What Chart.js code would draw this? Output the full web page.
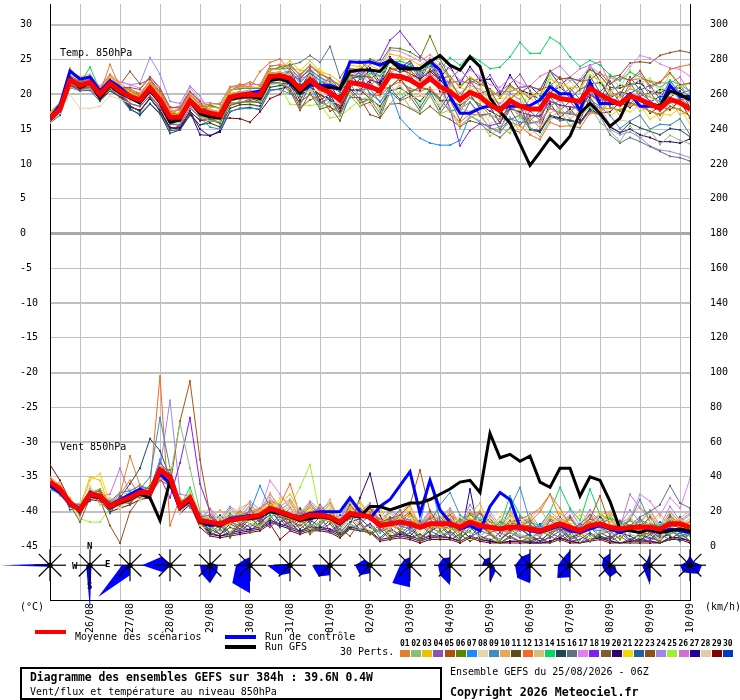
<!DOCTYPE html>
<html><head><meta charset="utf-8">
<script src="https://cdn.jsdelivr.net/npm/chart.js@4.4.1/dist/chart.umd.min.js"></script>
<style>
body{margin:0;background:#fff}
#wrap{position:relative;width:740px;height:700px;overflow:hidden;background:#fff}
.t{position:absolute;font-family:"DejaVu Sans Mono",monospace;font-size:10px;line-height:12px;white-space:nowrap;color:#000}
.sw{position:absolute;height:4px;width:31px}
.nb{position:absolute;font-family:"DejaVu Sans Mono",monospace;font-size:8px;font-weight:bold;line-height:9px;top:639px;white-space:nowrap}
.bx{position:absolute;top:650px;width:10px;height:7px}
.rl{position:absolute;font-family:"DejaVu Sans Mono",monospace;font-size:9px;font-weight:bold;line-height:10px}
</style></head>
<body>
<div id="wrap">
<canvas id="c" width="740" height="700"></canvas>
<div class="t" style="left:60px;top:47px">Temp. 850hPa</div>
<div class="t" style="left:60px;top:441px">Vent 850hPa</div>
<div class="rl" style="left:87px;top:541px">N</div>
<div class="rl" style="left:72px;top:561px">W</div>
<div class="rl" style="left:105px;top:559px">E</div>
<div class="rl" style="left:87px;top:581px">S</div>
<div class="t" style="left:20px;top:601px">(°C)</div>
<div class="t" style="left:705px;top:601px">(km/h)</div>
<div class="sw" style="left:35px;top:630px;background:#ff0000"></div>
<div class="t" style="left:75px;top:631px">Moyenne des scénarios</div>
<div class="sw" style="left:225px;top:635px;background:#0000ff"></div>
<div class="t" style="left:265px;top:631px">Run de contrôle</div>
<div class="sw" style="left:225px;top:645px;background:#000"></div>
<div class="t" style="left:265px;top:641px">Run GFS</div>
<div class="t" style="left:340px;top:646px">30 Perts.</div>
<div id="leg"></div>
<div style="position:absolute;left:20px;top:667px;width:418px;height:29px;border:2px solid #000"></div>
<div class="t" style="left:30px;top:671px;font-weight:bold;font-size:11.4px">Diagramme des ensembles GEFS sur 384h : 39.6N 0.4W</div>
<div class="t" style="left:30px;top:686px">Vent/flux et température au niveau 850hPa</div>
<div class="t" style="left:450px;top:666px">Ensemble GEFS du 25/08/2026 - 06Z</div>
<div class="t" style="left:450px;top:686px;font-weight:bold;font-size:11.6px">Copyright 2026 Meteociel.fr</div>
</div>
<script>
const hours = [0,6,12,18,24,30,36,42,48,54,60,66,72,78,84,90,96,102,108,114,120,126,132,138,144,150,156,162,168,174,180,186,192,198,204,210,216,222,228,234,240,246,252,258,264,270,276,282,288,294,300,306,312,318,324,330,336,342,348,354,360,366,372,378,384];
const dateLabels = ['26/08','27/08','28/08','29/08','30/08','31/08','01/09','02/09','03/09','04/09','05/09','06/09','07/09','08/09','09/09','10/09'];
const labelHours = [24,48,72,96,120,144,168,192,216,240,264,288,312,336,360,384];
const gridHours = [18,42,66,90,114,138,162,186,210,234,258,282,306,330,354,378];
const leftTicks = [-45,-40,-35,-30,-25,-20,-15,-10,-5,0,5,10,15,20,25,30];
const rightTicks = [0,20,40,60,80,100,120,140,160,180,200,220,240,260,280,300];

const tempMean = [16.6,17.9,22.0,21.3,21.7,20.0,21.6,20.5,19.7,19.2,20.9,19.2,16.7,16.7,19.1,17.7,17.3,17.0,19.6,19.9,20.0,19.9,22.6,22.7,22.3,20.8,22.1,20.9,20.3,19.2,21.7,21.5,21.1,20.5,22.7,22.6,22.1,21.2,22.3,21.1,20.4,19.2,20.3,19.7,18.5,17.7,19.1,18.3,17.9,17.9,20.0,19.4,19.2,19.0,20.9,20.0,19.2,18.6,19.8,19.3,18.6,18.0,19.3,18.8,17.9];
const tempCtrl = [16.7,18.5,23.4,22.2,22.5,20.5,22.0,21.0,19.8,19.0,20.5,19.0,16.5,16.5,19.0,17.5,17.0,16.8,19.4,20.0,20.2,20.5,22.0,22.4,21.6,20.4,21.3,21.3,21.3,20.8,24.7,24.6,24.7,24.2,24.9,24.2,23.7,23.7,24.8,23.5,19.7,17.3,17.3,18.0,18.4,18.0,18.3,18.3,18.4,19.2,21.1,20.1,20.1,17.7,21.8,18.7,18.7,18.7,20.1,18.3,18.3,18.3,21.3,19.7,19.7];
const tempGfs = [16.5,18.0,22.3,21.0,21.6,19.5,21.3,20.2,19.5,18.8,20.6,18.8,16.0,16.3,19.0,17.2,16.8,16.6,19.3,19.6,19.7,19.4,22.0,22.2,21.8,20.2,21.7,21.1,21.0,20.8,23.3,23.5,23.5,23.3,24.9,23.7,23.7,23.7,24.7,25.6,24.2,23.5,25.4,24.0,19.5,17.5,15.9,12.9,9.8,11.7,13.7,12.3,14.0,17.3,18.7,17.3,15.4,16.6,19.7,19.2,18.7,18.3,20.5,20.0,19.2];

const t01 = [17.0,18.4,22.8,21.5,22.4,20.3,24.3,21.0,20.6,19.8,21.5,20.2,17.3,17.8,19.9,18.4,18.6,18.7,21.0,21.2,21.8,21.2,24.0,24.3,24.0,22.9,24.2,23.0,22.0,21.4,23.5,23.6,22.6,21.0,23.5,23.9,23.0,21.8,23.0,21.6,19.5,18.0,19.5,18.6,17.0,16.4,18.3,17.2,15.8,16.2,18.0,17.2,17.5,16.8,18.7,18.0,18.0,17.8,18.5,18.4,17.5,17.2,18.0,17.9,16.8];
const t02 = [16.8,18.0,21.5,21.0,21.2,19.6,21.0,20.2,19.4,18.6,20.2,18.8,16.0,16.3,18.5,17.0,16.2,16.1,18.6,19.0,18.8,19.0,21.5,21.6,21.0,19.5,20.8,18.2,18.9,17.0,19.8,18.3,19.5,17.2,18.6,20.4,18.1,17.5,19.9,17.2,17.8,15.1,16.9,16.2,14.0,15.3,14.4,16.8,15.2,13.9,16.5,17.8,15.4,16.9,18.2,16.0,14.8,13.2,15.5,13.6,14.9,12.8,14.1,13.4,12.9];
const t03 = [17.3,18.6,23.8,22.0,22.5,21.0,22.5,21.2,20.3,19.6,21.6,19.8,17.0,17.3,19.6,18.1,18.2,18.0,20.6,21.0,21.0,21.0,23.5,23.7,24.8,23.4,24.8,23.3,22.8,21.8,24.2,24.0,24.2,23.5,25.8,25.5,25.0,24.2,25.3,24.0,22.4,21.2,22.5,21.7,20.6,19.6,21.0,20.4,19.8,20.0,22.2,21.5,21.0,21.0,22.8,22.0,20.2,19.6,20.8,20.5,19.6,18.8,20.3,19.6,18.8];
const t04 = [16.3,17.6,21.2,20.8,21.0,19.6,21.1,20.0,18.7,18.3,19.8,18.2,15.7,15.6,18.0,16.8,16.7,16.6,19.0,19.4,19.5,19.5,22.0,22.3,22.6,22.2,23.8,21.1,22.4,20.6,21.8,23.4,22.1,23.5,25.2,23.6,24.9,22.5,23.1,24.4,22.2,23.6,22.0,21.3,22.8,20.4,21.5,22.9,20.5,18.3,20.2,21.6,19.4,20.8,21.2,19.6,18.4,19.9,18.6,20.2,19.1,17.6,18.8,19.5,18.2];
const t05 = [16.9,18.2,22.3,21.8,21.9,20.5,21.8,21.0,21.0,20.7,22.5,20.8,18.2,18.0,20.4,19.0,16.5,16.0,18.4,18.8,19.0,18.9,21.5,21.6,20.9,18.1,19.2,19.8,17.6,18.3,20.5,18.8,19.3,20.8,21.0,22.4,20.2,21.1,20.6,19.5,22.0,19.6,21.9,20.1,20.7,18.2,19.3,20.6,19.4,20.7,21.2,22.5,20.4,21.9,22.1,23.2,21.5,22.6,22.0,23.4,21.2,21.8,23.1,21.4,21.6];
const t06 = [16.6,17.9,21.9,21.4,21.6,20.0,21.5,20.6,20.2,19.7,21.4,19.8,17.2,17.2,19.6,18.2,18.3,18.0,20.6,20.9,21.0,20.9,23.6,23.7,24.3,22.8,24.1,22.9,22.3,21.2,23.7,23.5,25.1,24.5,26.7,26.6,26.1,25.2,28.4,25.1,22.4,21.2,22.3,21.7,20.5,19.7,21.1,20.3,17.9,17.9,20.0,19.4,19.2,19.0,20.9,20.0,18.2,17.6,18.8,18.3,17.6,17.0,18.3,17.8,16.9];
const t07 = [17.0,18.4,22.6,21.8,22.2,20.6,22.0,21.0,19.8,19.3,21.0,19.3,16.8,16.8,19.2,17.8,18.4,18.0,20.7,20.8,21.0,20.8,23.6,23.7,23.8,22.3,23.6,22.4,21.8,20.7,23.2,23.0,20.1,19.0,20.5,16.6,15.0,13.7,13.0,12.7,12.7,13.4,17.0,16.0,15.2,14.5,16.5,16.0,15.9,16.2,18.0,17.4,17.2,17.0,18.9,18.0,20.2,19.6,20.8,20.3,19.6,19.0,20.3,19.8,18.9];
const t08 = [16.4,17.6,20.0,18.0,18.0,18.3,19.8,19.3,18.7,18.2,19.9,18.2,15.7,15.7,18.1,16.7,16.8,16.5,19.1,19.4,19.5,19.4,22.1,22.2,21.9,20.4,20.5,20.6,18.7,19.1,21.5,19.8,18.4,19.6,20.1,21.5,19.2,20.1,19.6,18.3,20.2,17.6,19.9,19.4,16.8,17.5,18.8,16.6,19.6,18.2,20.4,21.3,19.5,20.8,21.2,22.0,20.4,21.5,21.0,22.4,19.9,20.9,20.6,21.6,19.2];
const t09 = [16.5,17.8,21.8,21.1,21.6,19.8,21.4,20.3,18.7,18.2,19.9,18.2,15.7,15.7,18.1,16.7,15.3,15.0,17.6,17.9,18.0,17.9,20.6,20.7,20.1,19.9,21.3,18.6,19.5,17.1,19.5,20.7,20.8,18.9,21.1,22.3,20.5,20.9,20.6,19.4,17.6,17.9,18.9,16.9,17.2,15.1,16.4,17.0,16.2,17.6,18.3,19.2,17.5,18.7,19.2,18.3,17.0,15.1,16.2,17.0,15.0,15.7,15.6,16.5,14.2];
const t10 = [17.4,18.9,23.2,22.5,22.9,21.0,22.6,21.5,20.7,20.2,21.9,20.2,17.7,17.7,20.1,18.7,17.8,17.5,20.1,20.4,20.5,20.4,23.1,23.2,23.0,20.1,22.8,20.2,21.0,18.6,22.4,20.8,19.8,17.9,20.0,21.3,19.4,19.8,19.6,18.4,18.1,15.6,16.6,17.4,14.8,15.4,16.8,14.6,16.6,15.2,17.3,18.1,16.5,17.7,18.2,17.3,18.9,16.9,19.5,17.6,18.3,16.3,19.0,17.1,17.6];
const t11 = [16.2,17.5,21.3,20.6,21.4,19.2,20.8,19.6,18.4,17.5,19.6,17.5,15.0,15.5,17.4,16.4,16.5,15.8,18.8,18.7,19.4,19.0,22.0,22.4,22.5,20.3,22.6,21.4,20.0,19.8,22.3,22.6,22.5,21.2,23.8,23.2,23.5,22.0,23.6,22.3,22.6,21.0,22.5,21.5,20.8,19.5,21.4,20.2,21.2,20.6,23.4,22.2,22.4,21.9,23.6,22.7,21.0,20.9,21.5,21.6,20.4,20.2,21.0,20.9,19.7];
const t12 = [16.9,18.2,22.6,21.9,22.0,20.9,22.8,21.0,20.4,20.0,21.8,19.8,17.6,17.1,19.9,18.6,17.4,17.6,20.4,21.5,21.0,23.3,24.6,25.1,23.4,22.5,23.4,22.6,21.3,20.9,22.9,22.7,20.0,19.8,21.2,21.8,20.9,20.4,21.0,19.4,17.5,16.0,17.2,17.0,15.2,14.8,16.0,15.5,14.2,13.5,16.0,15.4,15.5,15.2,17.3,17.3,19.8,20.2,22.0,22.3,21.9,21.6,23.6,24.0,24.3];
const t13 = [15.9,17.3,21.0,20.6,20.8,19.5,20.7,19.9,19.1,18.9,20.2,18.8,16.4,16.0,18.8,17.3,17.9,17.3,20.2,20.3,20.6,20.2,22.9,23.3,22.7,22.2,22.5,22.6,20.8,20.7,21.9,23.3,22.4,23.3,23.7,25.6,23.3,23.7,23.8,23.7,22.3,19.3,22.2,19.8,20.1,18.2,20.7,18.7,18.2,17.4,20.5,18.9,19.6,18.6,21.2,19.6,19.7,18.2,20.2,19.0,18.9,17.6,19.7,18.4,18.3];
const t14 = [17.5,18.6,22.3,21.6,23.9,20.6,21.2,20.6,20.3,19.5,21.5,19.7,17.0,17.4,19.6,18.0,17.0,17.3,19.4,20.1,19.8,20.2,22.5,23.0,23.4,21.6,23.2,21.9,21.2,20.4,22.6,22.3,23.0,22.7,24.6,24.8,24.3,23.0,24.4,23.5,25.3,24.2,25.6,24.8,23.7,23.9,25.4,27.5,25.9,25.9,28.2,27.3,25.4,24.0,24.9,24.2,22.8,22.0,23.2,22.5,21.8,21.0,22.0,21.4,20.5];
const t15 = [16.1,17.4,21.4,20.8,21.0,19.6,21.0,19.8,18.0,17.0,18.6,17.2,14.4,14.9,17.0,15.6,15.9,15.3,18.0,18.5,18.6,18.3,21.0,21.3,21.1,19.9,21.0,20.0,19.1,18.4,20.6,20.7,19.4,18.3,20.5,20.9,20.0,19.0,20.6,19.1,19.2,18.4,19.5,18.5,17.6,16.8,17.9,17.5,14.9,14.6,16.8,16.5,16.3,15.9,17.8,17.1,15.4,14.5,15.9,15.2,14.7,14.2,15.1,14.9,13.9];
const t16 = [16.8,18.1,22.4,21.5,22.0,20.2,21.9,20.5,19.3,18.6,20.4,18.8,16.2,16.1,18.7,17.1,18.5,18.0,20.6,21.1,20.8,21.0,23.4,24.0,24.2,24.6,25.6,24.6,26.9,22.4,24.6,24.8,23.4,22.6,24.6,24.3,24.0,23.3,24.0,23.2,20.6,19.0,20.4,19.9,18.3,17.5,19.4,18.2,15.2,14.5,17.0,16.2,16.4,15.8,17.6,17.0,14.2,13.0,13.8,13.2,12.5,11.8,11.1,10.9,10.4];
const t17 = [17.2,18.7,23.2,22.1,22.6,21.2,22.9,21.8,21.4,20.9,22.6,21.0,18.0,18.2,21.0,19.2,18.2,18.1,20.5,21.1,21.2,20.8,23.6,23.8,24.4,22.6,24.3,23.1,22.2,21.2,23.7,23.6,24.8,24.0,26.4,26.2,25.5,24.8,25.7,24.5,23.7,22.0,23.5,22.6,21.4,21.0,22.4,21.6,21.0,20.8,23.2,22.4,22.0,22.2,24.0,23.0,22.4,22.0,24.0,25.6,25.2,24.4,23.8,23.6,22.6];
const t18 = [16.9,18.3,22.6,21.9,22.2,20.5,22.0,21.1,20.8,20.0,22.0,20.1,17.6,17.8,20.0,18.6,17.2,17.1,19.5,19.7,20.0,19.8,22.7,22.5,23.3,21.9,23.1,22.0,21.2,20.3,22.8,22.5,24.3,25.0,27.8,29.1,27.2,25.5,24.4,21.5,18.0,12.6,14.8,15.8,15.5,15.9,18.0,17.5,17.0,16.8,19.0,18.5,18.2,18.1,20.0,19.2,19.2,18.4,19.8,19.2,18.7,17.9,19.4,18.6,17.8];
const t19 = [16.3,17.6,21.5,21.0,21.3,19.8,21.2,20.2,18.6,18.3,19.8,18.0,15.9,15.5,18.3,16.6,16.9,16.4,19.2,19.3,19.6,19.3,22.0,22.3,20.5,17.7,20.2,17.9,18.3,16.2,19.8,18.3,18.9,16.7,20.4,19.1,19.7,17.6,19.9,17.3,19.2,16.3,18.9,17.1,17.2,15.0,17.9,15.5,17.6,16.3,19.7,17.7,19.0,17.3,20.5,18.4,20.8,18.9,21.6,19.7,20.3,18.4,20.9,19.2,19.5];
const t20 = [16.6,17.8,21.8,21.3,21.4,19.8,21.5,20.3,18.3,17.6,19.4,17.7,15.2,15.0,17.5,14.2,14.1,14.6,17.5,18.0,18.1,17.8,20.6,20.8,21.2,19.8,21.1,19.9,19.4,18.0,20.6,20.6,22.1,21.6,23.6,23.7,23.0,22.2,23.3,22.1,20.4,19.2,20.3,19.6,18.5,17.6,19.0,18.4,15.0,14.8,17.0,16.6,16.2,16.0,18.0,17.0,15.3,14.5,15.0,14.2,13.8,13.2,13.2,13.0,13.6];
const t21 = [17.4,18.8,23.3,22.6,22.5,21.1,22.9,21.6,20.2,19.6,21.4,19.7,17.2,17.3,19.5,18.2,18.4,17.9,20.5,21.0,21.0,20.8,23.7,23.6,23.7,23.5,23.3,23.7,21.6,21.8,22.9,24.3,22.0,22.7,23.4,24.9,22.8,23.4,23.2,23.2,20.7,21.0,20.5,21.4,18.7,19.5,19.4,20.0,16.3,17.5,18.3,19.2,17.5,18.7,19.1,19.8,16.9,17.9,17.5,18.5,16.4,17.3,17.0,18.0,15.8];
const t22 = [15.9,17.0,21.0,20.5,20.6,19.0,20.5,19.6,17.8,17.2,18.7,17.3,14.8,14.9,17.2,15.6,16.2,16.0,18.5,19.0,18.9,18.8,21.7,21.6,21.5,18.5,21.3,18.8,19.5,17.0,20.8,19.3,19.3,17.3,20.9,19.3,20.3,18.1,20.4,17.9,20.1,17.5,20.0,18.0,18.2,15.9,18.8,16.6,19.6,18.2,21.7,19.7,20.9,19.3,22.6,20.3,21.9,19.9,22.5,20.6,21.3,19.3,22.0,20.1,20.6];
const t23 = [17.0,18.3,22.3,21.9,22.0,20.6,22.0,21.4,23.3,21.5,22.2,20.4,18.0,18.3,20.4,19.0,16.2,16.0,18.6,18.8,19.1,18.8,21.6,21.7,20.3,18.9,20.0,18.9,18.2,17.3,19.6,19.5,17.1,16.6,18.6,18.7,18.0,17.2,18.3,17.1,16.4,15.4,16.2,15.8,14.6,13.8,15.2,14.5,16.9,17.0,19.0,18.4,18.2,18.0,19.9,19.0,22.5,22.8,24.5,24.7,24.5,25.6,26.0,26.3,26.0];
const t24 = [17.2,18.6,22.8,22.2,22.7,21.0,22.4,21.8,21.4,21.6,25.3,22.9,19.0,18.7,21.2,19.8,17.3,17.0,19.6,19.9,20.0,19.9,22.6,22.7,21.3,19.8,21.1,19.9,19.3,18.2,20.7,20.5,21.1,20.5,22.7,22.6,22.1,21.2,22.3,21.1,21.4,20.2,21.3,20.7,19.5,18.7,20.1,19.3,15.9,15.9,18.0,17.4,17.2,17.0,18.9,18.0,15.0,14.2,14.6,13.8,12.6,12.0,11.8,11.4,10.9];
const t25 = [16.7,18.0,22.2,21.2,21.8,19.8,21.7,20.4,19.9,19.0,21.0,19.4,16.5,16.9,19.3,17.5,15.8,15.4,18.0,18.6,18.4,18.3,21.1,21.2,18.6,18.5,18.4,18.6,16.6,16.9,18.0,19.2,19.8,17.8,21.4,19.9,20.8,18.5,21.0,18.4,21.1,18.5,21.0,19.0,19.2,17.0,19.8,17.6,20.6,19.2,22.7,20.7,21.9,20.3,23.6,21.3,22.9,20.9,23.5,21.6,22.3,20.3,23.0,21.1,21.6];
const t26 = [17.1,18.4,22.5,21.8,22.2,20.5,22.1,21.0,20.7,20.2,21.9,20.2,17.7,17.7,20.1,18.7,18.8,18.5,21.1,21.4,21.5,21.4,24.1,24.2,22.6,22.5,22.4,22.6,20.6,20.9,22.0,23.2,21.4,22.2,23.0,24.3,22.4,22.9,22.6,22.8,21.7,21.9,21.6,22.4,19.8,20.4,20.4,21.0,21.2,22.6,23.3,24.1,22.5,23.7,24.2,24.7,21.5,22.3,22.1,23.0,20.9,21.7,21.6,22.5,20.2];
const t27 = [16.1,17.4,21.5,20.8,21.2,19.5,21.1,20.0,18.2,17.7,19.4,17.7,15.2,15.2,17.6,15.0,14.0,14.8,19.1,19.4,19.5,19.4,22.1,22.2,23.5,20.6,23.3,20.7,21.5,19.0,22.9,21.3,23.8,21.8,25.4,23.9,24.8,22.5,25.0,22.4,24.1,21.5,24.0,22.0,22.2,20.0,22.8,20.6,20.1,19.3,20.3,21.1,19.5,20.7,21.5,21.7,20.5,21.3,21.1,22.0,19.9,20.7,20.6,21.5,19.2];
const t28 = [16.1,17.4,21.5,20.8,21.2,19.5,21.1,20.0,19.2,18.7,20.4,18.7,16.2,16.2,18.6,17.2,17.3,17.0,19.6,19.9,20.0,19.9,22.6,22.7,20.6,20.5,20.4,20.6,18.6,18.9,20.0,21.2,19.4,20.2,21.0,22.3,20.4,20.9,20.6,20.8,17.7,17.9,17.6,18.4,15.8,16.4,16.4,17.0,14.2,15.6,16.3,17.1,15.5,16.7,17.2,18.7,15.5,16.3,16.1,17.0,14.9,15.7,15.6,16.5,14.2];
const t29 = [16.2,17.4,21.0,20.6,20.8,19.3,20.5,19.7,18.2,17.7,19.4,17.7,15.2,15.2,17.6,16.2,16.4,16.5,16.6,16.5,16.0,17.5,19.4,20.0,22.0,19.1,21.8,19.2,20.0,17.5,21.4,19.8,21.8,19.8,23.4,21.9,22.8,20.5,23.0,20.4,20.1,17.5,20.0,18.0,18.2,15.9,18.8,16.6,16.6,15.2,18.7,16.7,17.9,16.3,19.6,17.3,17.5,18.9,18.1,19.4,17.3,18.3,17.8,19.1,16.6];
const t30 = [16.6,17.9,22.0,21.3,21.7,20.0,21.6,20.5,20.2,19.7,21.4,19.7,17.2,17.2,19.6,18.2,17.8,17.5,20.1,20.4,20.5,20.4,23.1,23.2,21.6,21.5,21.4,21.6,19.6,19.9,21.0,22.2,23.4,21.4,25.0,23.5,24.4,22.1,24.6,22.0,21.7,21.9,21.6,22.4,19.8,20.4,20.4,21.0,21.2,19.8,23.3,21.3,22.5,20.9,24.2,21.9,19.5,20.3,20.1,21.0,18.9,19.7,19.6,20.5,18.2];

const windMean = [37,33,25,21,30,29,23,26,28,31,31,44,40,23,28,15,14,13,15,16,17,18,22,20,18,16,18,18,17,14,19,18,17,12,13,14,13,11,13,13,13,11,14,12,11,10,11,11,10,9,11,13,11,9,12,13,11,10,11,11,11,10,13,13,11];
const windCtrl = [35,31,24,22,31,29,24,27,30,33,30,42,36,22,26,14,12,13,16,17,18,17,21,19,18,17,19,20,20,20,28,20,16,23,27,35,43,19,38,21,14,10,12,9,23,31,27,11,9,8,10,12,9,8,10,12,10,8,10,12,9,8,10,9,8];
const windGfs = [36,32,25,20,29,28,22,25,27,30,28,15,38,22,27,14,13,12,15,16,16,17,20,19,17,15,16,17,16,13,18,17,23,23,21,23,25,25,27,30,33,37,38,31,65,51,53,49,52,37,34,45,45,29,40,38,26,10,9,8,10,8,9,10,9];

const w01 = [40,35,27,22,31,33,25,30,52,35,30,40,35,25,24,14,12,14,18,15,20,22,26,18,16,14,20,16,14,12,18,21,20,16,12,10,15,13,9,14,16,12,18,20,14,9,8,12,14,20,30,22,12,8,10,14,10,8,12,9,13,10,8,11,14];
const w02 = [36,31,26,20,28,30,21,24,26,29,33,42,40,71,45,20,11,9,14,17,13,12,17,20,18,14,12,13,19,13,13,10,12,8,13,10,9,12,14,8,7,10,8,6,10,12,8,6,5,7,10,8,12,10,6,8,10,13,7,5,8,10,7,9,6];
const w03 = [38,34,24,23,40,38,22,27,30,33,29,46,38,22,30,12,15,12,13,19,17,20,24,25,30,20,22,17,15,13,22,26,18,12,10,16,18,12,14,11,10,8,16,14,9,12,14,13,11,7,9,16,13,6,12,20,14,12,9,13,10,8,14,16,12];
const w04 = [35,32,26,18,32,27,24,28,27,34,33,48,42,24,26,17,18,11,16,9,22,13,24,17,12,21,14,24,16,10,19,13,18,9,15,21,8,12,16,10,16,7,13,19,11,6,14,9,12,5,15,10,8,13,18,11,7,14,9,16,11,6,17,9,12];
const w05 = [39,34,23,21,29,26,24,25,25,30,30,38,35,72,95,50,18,12,14,12,16,15,21,17,15,12,16,20,18,14,16,18,22,14,16,18,24,44,20,12,10,9,12,11,8,10,14,12,12,10,8,10,9,11,16,29,12,9,10,8,7,9,12,11,9];
const w06 = [34,30,24,23,30,32,22,24,29,30,35,45,44,26,27,16,9,15,7,13,18,10,16,22,11,17,8,14,19,6,13,10,7,13,5,9,15,4,11,8,12,5,9,15,7,3,10,6,4,9,6,12,5,8,3,7,9,4,11,6,8,3,10,5,7];
const w07 = [37,32,25,24,32,30,26,31,32,35,33,50,36,21,26,14,12,14,17,18,20,35,22,18,16,20,22,18,17,13,20,19,16,11,14,12,10,13,38,15,11,10,13,11,9,12,10,9,10,12,9,11,13,8,10,9,11,10,9,12,8,10,9,6,8];
const w08 = [33,36,24,25,35,26,28,22,33,26,36,38,45,19,31,21,20,14,17,23,12,19,27,16,24,13,20,15,22,17,12,21,14,19,11,17,22,9,15,18,11,17,13,8,16,20,10,14,18,8,13,16,10,14,19,9,15,11,18,8,14,17,10,13,16];
const w09 = [33,30,24,22,31,28,23,24,30,33,40,74,45,20,25,15,14,11,13,16,18,17,20,16,18,15,19,17,16,12,17,17,16,12,14,17,15,12,14,24,31,18,14,13,12,9,22,34,14,10,12,10,9,8,13,11,10,12,15,27,14,10,12,8,9];
const w10 = [35,37,24,24,30,33,23,31,30,36,28,47,38,27,27,18,16,21,14,22,25,18,31,20,26,17,24,19,27,14,21,25,17,22,13,20,24,11,18,16,21,13,18,25,11,17,20,12,16,22,12,19,15,21,13,18,20,12,17,23,14,19,11,16,21];
const w11 = [36,34,24,19,28,28,21,25,27,30,29,41,38,24,25,13,10,7,11,9,13,10,16,11,14,8,12,9,13,6,10,13,7,10,4,8,5,7,4,9,4,7,3,6,4,2,6,3,3,5,2,7,3,4,8,4,6,2,4,3,7,2,4,8,3];
const w12 = [38,33,27,21,29,31,24,30,38,29,35,98,12,28,22,16,14,12,16,20,18,22,26,24,36,18,20,22,16,14,22,20,18,14,12,16,20,13,17,16,18,14,16,13,10,12,14,16,18,22,30,16,12,9,14,12,11,9,10,13,12,10,12,14,11];
const w13 = [38,29,28,17,33,24,27,21,31,27,35,39,42,20,32,12,10,15,8,14,19,11,17,21,13,18,10,15,21,9,16,12,9,15,7,13,17,6,12,10,14,6,11,16,8,4,12,7,5,10,7,13,6,9,4,11,8,5,12,7,9,4,13,6,9];
const w14 = [34,32,25,23,29,30,22,27,29,32,34,44,38,23,34,17,15,13,14,15,18,16,21,20,17,15,18,17,16,15,19,17,16,13,15,12,14,11,12,14,13,15,18,16,14,12,29,18,14,12,20,34,22,15,33,18,16,14,12,15,13,12,15,13,11];
const w15 = [36,33,25,22,31,29,23,28,36,45,62,55,40,22,26,15,12,7,13,10,16,12,21,14,17,10,15,12,18,8,14,16,11,8,14,9,6,12,8,13,7,10,5,12,8,4,9,11,6,3,8,10,5,7,11,6,4,8,6,3,9,5,7,10,6];
const w16 = [40,31,27,18,33,27,26,23,30,28,33,42,44,20,30,13,17,11,19,14,21,16,25,18,15,20,13,22,16,12,21,15,19,12,16,10,18,14,9,17,11,16,13,20,9,14,12,17,13,7,15,11,16,10,14,18,9,15,12,17,20,24,35,25,22];
const w17 = [38,34,26,22,31,30,24,27,29,32,31,45,40,24,30,16,15,14,17,18,20,20,38,30,22,18,20,19,18,15,22,20,19,14,15,16,15,12,14,15,14,12,15,13,12,11,12,12,12,10,12,14,12,10,13,14,12,14,16,30,26,18,28,22,39];
const w18 = [35,31,26,21,30,28,24,27,28,30,31,40,28,48,74,36,20,12,8,14,11,16,12,18,10,15,11,17,9,12,16,10,13,8,11,6,10,5,9,12,6,10,5,9,7,4,8,5,7,3,5,9,4,6,3,8,5,9,4,7,5,3,9,6,8];
const w19 = [36,32,24,14,28,29,22,26,27,30,31,43,39,22,27,14,6,10,5,12,8,14,11,16,9,13,7,12,8,10,6,14,8,4,9,5,8,3,7,5,8,3,6,4,7,2,5,3,5,2,6,3,7,2,4,6,3,6,2,5,3,7,4,8,3];
const w20 = [37,33,25,21,30,28,23,26,28,31,30,43,39,22,27,15,8,6,8,9,10,11,15,13,11,9,11,11,10,7,12,28,42,18,6,7,6,4,6,6,5,3,6,4,3,2,3,3,3,2,3,5,3,2,4,5,3,2,3,4,3,2,5,5,3];
const w21 = [36,34,26,22,38,42,25,27,29,32,30,44,41,24,29,15,13,17,12,20,15,22,19,28,25,15,23,17,24,12,20,23,15,20,12,18,23,10,16,20,12,18,14,21,10,15,19,11,17,9,16,20,12,18,10,15,19,10,16,13,20,11,17,12,15];
const w22 = [32,35,21,23,26,31,19,28,24,33,27,46,34,26,23,17,8,12,6,13,9,14,18,11,14,8,13,10,15,6,12,9,13,5,10,7,12,4,9,6,9,4,11,6,3,8,5,10,6,3,8,5,9,2,7,4,5,8,3,7,4,9,6,3,7];
const w23 = [36,32,24,21,29,27,12,2,20,28,30,42,38,22,27,14,15,10,17,13,19,14,24,16,22,16,24,18,21,13,24,17,22,12,17,14,19,10,17,13,18,11,19,12,16,9,15,11,15,9,16,12,17,8,16,13,16,10,15,11,17,9,18,12,14];
const w24 = [38,34,26,22,31,30,24,27,29,32,32,45,84,30,29,16,22,16,23,19,26,21,30,23,27,19,26,21,25,16,28,20,25,14,21,17,22,13,21,16,22,13,24,15,20,12,21,13,19,11,20,15,21,12,21,14,20,13,21,14,21,12,23,15,19];
const w25 = [36,32,24,16,14,14,22,25,27,30,30,42,38,22,27,14,18,13,21,16,23,18,27,19,23,34,47,18,22,13,25,17,23,12,19,14,19,10,18,13,19,10,20,12,17,9,17,10,15,8,17,13,16,9,18,13,17,9,17,10,17,9,19,13,16];
const w26 = [37,33,25,21,30,29,30,45,30,31,31,44,40,23,28,15,21,14,22,17,24,19,28,21,25,17,25,19,24,15,26,19,24,13,20,15,20,12,20,14,20,12,21,13,18,11,18,12,17,10,18,14,18,10,19,14,18,11,30,22,18,11,20,14,18];
const w27 = [36,33,25,20,30,28,23,26,28,31,30,43,39,22,27,15,7,6,7,8,9,10,14,12,10,8,10,10,9,6,11,10,9,4,5,6,5,3,5,5,5,3,33,4,3,2,3,3,2,2,3,5,3,2,4,5,3,2,3,3,3,2,5,5,3];
const w28 = [39,30,28,20,34,27,28,24,33,28,36,41,44,21,31,14,19,12,20,15,22,17,27,19,24,14,22,17,21,13,23,18,21,12,17,13,17,11,19,12,19,10,18,12,15,10,15,11,16,8,17,11,16,9,16,13,15,10,16,11,16,10,17,13,15];
const w29 = [47,38,26,20,27,26,20,22,24,27,28,40,36,19,24,11,6,5,6,7,8,9,13,4,9,7,9,9,8,5,10,9,8,3,4,5,4,2,4,4,4,2,5,3,2,2,2,2,2,2,2,4,2,2,3,4,2,2,2,2,2,2,4,4,2];
const w30 = [34,36,23,25,28,33,21,29,26,34,29,47,38,27,25,19,12,18,13,20,15,22,19,24,16,22,16,21,15,18,17,22,15,16,11,18,11,15,11,17,11,15,12,16,9,14,9,15,8,13,9,17,9,13,10,17,9,14,9,15,9,14,11,17,9];

const pertColors = ['#e08030','#88c070','#f0c000','#9050b0','#b05010','#588800','#1e88ff','#e8d4a8','#3c8cc0','#e8a858','#604c18','#f86820','#d4c080','#00d860','#204458','#607080','#e080f0','#8020f0','#7c5c30','#300070','#f0d800','#2060a0','#8c5020','#9c88e8','#a0f030','#d070d0','#200098','#e0ccac','#800000','#0038c0'];
const tempPerts = [t01,t02,t03,t04,t05,t06,t07,t08,t09,t10,t11,t12,t13,t14,t15,t16,t17,t18,t19,t20,t21,t22,t23,t24,t25,t26,t27,t28,t29,t30];
const windPerts = [w01,w02,w03,w04,w05,w06,w07,w08,w09,w10,w11,w12,w13,w14,w15,w16,w17,w18,w19,w20,w21,w22,w23,w24,w25,w26,w27,w28,w29,w30];

// wind-direction roses, one per day: radii for N, NE, E, SE, S, SW, W, NW
const roseHours = [0,24,48,72,96,120,144,168,192,216,240,264,288,312,336,360,384];
const roseN  = [0,0,0,2,3,8,0,0,2,8,8,8,12,15,12,12,10];
const roseNE = [0,0,4,0,3,0,0,0,0,0,0,0,0,0,0,0,5];
const roseE  = [0,0,0,0,8,0,0,0,0,0,0,4,0,0,5,0,12];
const roseSE = [0,2,0,0,10,0,0,0,0,0,0,8,0,0,10,0,12];
const roseS  = [0,45,10,0,18,28,8,10,8,22,20,18,18,12,12,20,8];
const roseSW = [2,5,45,10,12,25,14,16,14,25,14,0,18,18,8,8,10];
const roseW  = [50,4,8,28,10,14,23,18,15,10,12,8,15,12,8,8,10];
const roseNW = [2,0,0,12,0,8,2,0,8,8,10,8,12,10,10,5,5];
const roseLevel = -47.7;

const leg = document.getElementById('leg');
pertColors.forEach((c,i)=>{
  const x = 400 + i*11.14;
  const n = document.createElement('div'); n.className='nb'; n.style.left=(x)+'px';
  n.textContent = String(i+1).padStart(2,'0'); leg.appendChild(n);
  const b = document.createElement('div'); b.className='bx'; b.style.left=x+'px'; b.style.background=c; leg.appendChild(b);
});

const pts = arr => arr.map((v,i)=>({x:hours[i], y:v}));
const datasets = [];
datasets.push({label:'Moyenne T', data:pts(tempMean), yAxisID:'y', borderColor:'#ff0000', borderWidth:5, pointRadius:0, order:0});
datasets.push({label:'Moyenne V', data:pts(windMean), yAxisID:'yR', borderColor:'#ff0000', borderWidth:5, pointRadius:0, order:0});
datasets.push({label:'GFS T', data:pts(tempGfs), yAxisID:'y', borderColor:'#000000', borderWidth:3, pointRadius:0, order:1});
datasets.push({label:'GFS V', data:pts(windGfs), yAxisID:'yR', borderColor:'#000000', borderWidth:3, pointRadius:0, order:1});
datasets.push({label:'Ctrl T', data:pts(tempCtrl), yAxisID:'y', borderColor:'#0000ff', borderWidth:3, pointRadius:0, order:2});
datasets.push({label:'Ctrl V', data:pts(windCtrl), yAxisID:'yR', borderColor:'#0000ff', borderWidth:3, pointRadius:0, order:2});
tempPerts.forEach((a,i)=>{
  datasets.push({label:'T'+(i+1), data:pts(a), yAxisID:'y', borderColor:pertColors[i], backgroundColor:pertColors[i], borderWidth:1, pointRadius:1.3, pointStyle:'rect', pointBorderWidth:0, order:3+i});
  datasets.push({label:'V'+(i+1), data:pts(windPerts[i]), yAxisID:'yR', borderColor:pertColors[i], backgroundColor:pertColors[i], borderWidth:1, pointRadius:1.3, pointStyle:'rect', pointBorderWidth:0, order:3+i});
});

const rosePlugin = {
  id:'roses',
  afterDatasetsDraw(chart){
    const ctx = chart.ctx, xs = chart.scales.x, ys = chart.scales.y;
    const cy = ys.getPixelForValue(roseLevel);
    ctx.save();
    roseHours.forEach((h,k)=>{
      const cx = xs.getPixelForValue(h);
      const r = [roseN[k],roseNE[k],roseE[k],roseSE[k],roseS[k],roseSW[k],roseW[k],roseNW[k]];
      ctx.beginPath();
      r.forEach((v,j)=>{
        const a = j*Math.PI/4;
        const px = cx + Math.sin(a)*v, py = cy - Math.cos(a)*v;
        if (j===0) ctx.moveTo(px,py); else ctx.lineTo(px,py);
      });
      ctx.closePath(); ctx.fillStyle='#0000ff'; ctx.fill();
      ctx.strokeStyle='#000'; ctx.lineWidth=1.2;
      for (let j=0;j<4;j++){
        const a=j*Math.PI/4;
        ctx.beginPath();
        ctx.moveTo(cx+Math.sin(a)*16, cy-Math.cos(a)*16);
        ctx.lineTo(cx-Math.sin(a)*16, cy+Math.cos(a)*16);
        ctx.stroke();
      }
      ctx.beginPath(); ctx.arc(cx,cy,2.6,0,2*Math.PI); ctx.fillStyle='#000'; ctx.fill();
    });
    ctx.restore();
  }
};

const noPad = s => { s.paddingTop = 0; s.paddingBottom = 0; s.paddingLeft = 0; s.paddingRight = 0; };
const tickFont = {family:'DejaVu Sans Mono', size:10};
new Chart(document.getElementById('c'), {
  type:'line',
  data:{datasets},
  plugins:[rosePlugin],
  options:{
    responsive:false, animation:false, devicePixelRatio:1,
    layout:{padding:{left:20,right:0,top:0,bottom:0}},
    elements:{line:{tension:0}},
    plugins:{legend:{display:false}, tooltip:{enabled:false}},
    scales:{
      x:{type:'linear', min:0, max:384,
        afterBuildTicks:s=>{ const t=[]; gridHours.forEach((g,i)=>{t.push({value:g}); t.push({value:labelHours[i]});}); s.ticks=t; },
        afterFit:s=>{ s.height=100; noPad(s); },
        ticks:{autoSkip:false, minRotation:90, maxRotation:90, padding:3, color:'#000', font:tickFont,
          callback:v=>{ const i=labelHours.indexOf(v); return i>=0 ? dateLabels[i] : ''; }},
        grid:{drawTicks:false, lineWidth:1, color:c=> (c.tick && gridHours.includes(c.tick.value)) ? '#c0c0c0' : 'rgba(0,0,0,0)'},
        border:{color:'#000', width:1}
      },
      y:{type:'linear', position:'left', min:-52.7, max:33,
        afterBuildTicks:s=>{ s.ticks = leftTicks.map(v=>({value:v})); },
        afterFit:s=>{ s.width=30; noPad(s); },
        ticks:{crossAlign:'far', padding:0, color:'#000', font:tickFont},
        grid:{drawTicks:false,
          color:c=> (c.tick && c.tick.value===0) ? '#a8a8a8' : '#c0c0c0',
          lineWidth:c=> !c.tick ? 1 : (c.tick.value===0 ? 3 : (c.tick.value%10===0 ? 2 : 1))},
        border:{color:'#000', width:1}
      },
      yR:{type:'linear', position:'right', min:-30.8, max:312,
        afterBuildTicks:s=>{ s.ticks = rightTicks.map(v=>({value:v})); },
        afterFit:s=>{ s.width=50; noPad(s); },
        ticks:{padding:20, color:'#000', font:tickFont},
        grid:{display:false, drawTicks:false},
        border:{color:'#000', width:1}
      }
    }
  }
});
</script>
</body></html>
